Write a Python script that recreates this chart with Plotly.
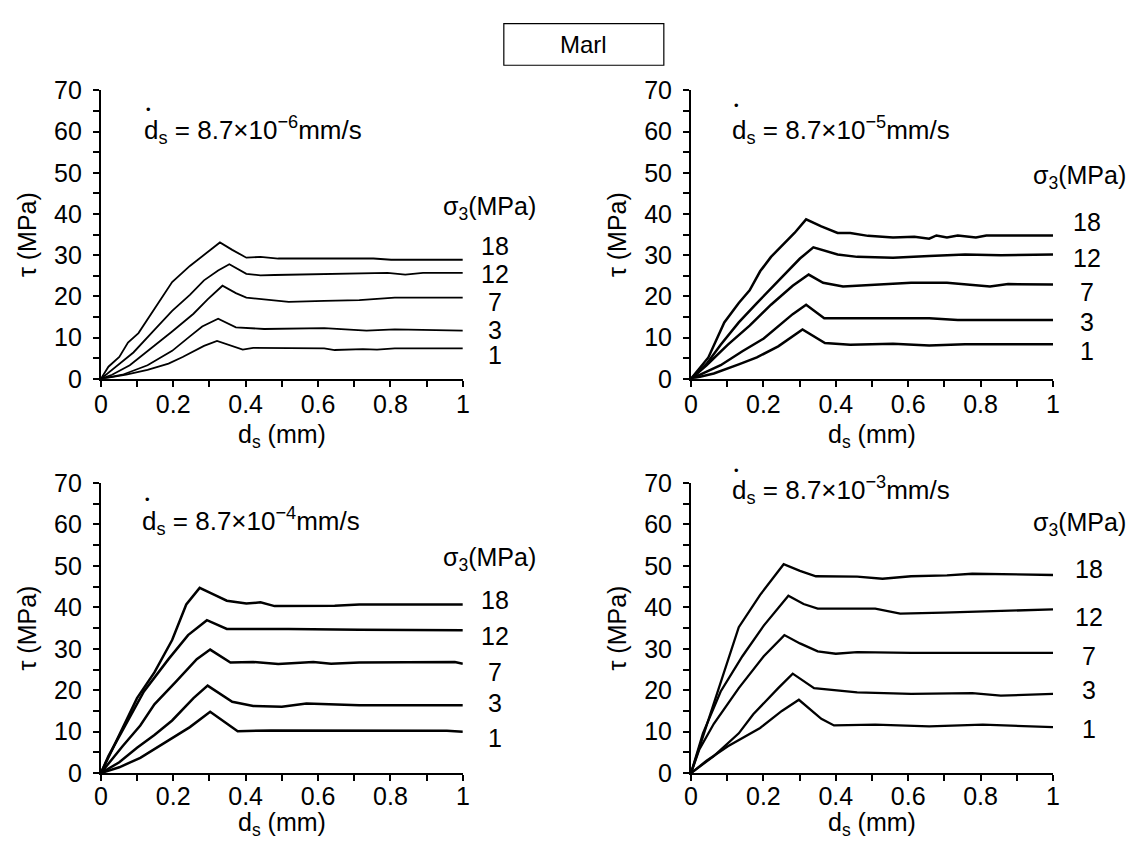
import plotly.graph_objects as go

# ---------------- data ----------------
sigma3_labels = ["18", "12", "7", "3", "1"]
rate_exponents = ["−6", "−5", "−4", "−3"]

# Panel A: 8.7e-6 mm/s
a18_x = [0, 0.021, 0.051, 0.075, 0.104, 0.139, 0.197, 0.246, 0.285, 0.329, 0.363, 0.402, 0.441, 0.49, 0.753, 0.802, 1.0]
a18_y = [0, 2.95, 5.3, 8.8, 11.1, 15.8, 23.5, 27.4, 30.1, 33.1, 31.3, 29.4, 29.6, 29.2, 29.2, 28.9, 28.9]
a12_x = [0, 0.031, 0.09, 0.148, 0.197, 0.246, 0.285, 0.324, 0.355, 0.402, 0.441, 0.48, 0.714, 0.792, 0.841, 0.89, 1.0]
a12_y = [0, 2.2, 6.4, 11.9, 16.5, 20.4, 23.9, 26.3, 27.8, 25.5, 25.1, 25.2, 25.5, 25.7, 25.3, 25.7, 25.7]
a7_x = [0, 0.031, 0.08, 0.148, 0.197, 0.256, 0.295, 0.336, 0.373, 0.402, 0.451, 0.519, 0.617, 0.714, 0.812, 1.0]
a7_y = [0, 1.0, 3.3, 8.0, 11.5, 15.8, 19.3, 22.6, 20.8, 19.7, 19.3, 18.7, 18.9, 19.1, 19.7, 19.7]
a3_x = [0, 0.06, 0.129, 0.197, 0.246, 0.28, 0.324, 0.373, 0.451, 0.617, 0.734, 0.812, 1.0]
a3_y = [0, 1.0, 3.3, 6.8, 10.3, 12.7, 14.6, 12.5, 12.1, 12.3, 11.7, 12.0, 11.7]
a1_x = [0, 0.07, 0.129, 0.187, 0.226, 0.285, 0.321, 0.392, 0.421, 0.617, 0.646, 0.724, 0.763, 0.812, 1.0]
a1_y = [0, 1.0, 2.2, 3.7, 5.3, 8.0, 9.2, 7.1, 7.5, 7.4, 7.0, 7.2, 7.1, 7.4, 7.4]

# Panel B: 8.7e-5 mm/s
b18_x = [0, 0.048, 0.092, 0.132, 0.162, 0.191, 0.221, 0.261, 0.286, 0.318, 0.36, 0.405, 0.44, 0.489, 0.558, 0.617, 0.658, 0.678, 0.707, 0.737, 0.787, 0.816, 1.0]
b18_y = [0, 5.2, 13.7, 18.4, 21.5, 26.1, 29.6, 33.1, 35.4, 38.7, 37.0, 35.4, 35.4, 34.7, 34.3, 34.5, 34.0, 34.8, 34.3, 34.8, 34.3, 34.8, 34.8]
b12_x = [0, 0.043, 0.082, 0.132, 0.182, 0.241, 0.301, 0.338, 0.405, 0.459, 0.558, 0.658, 0.757, 0.856, 1.0]
b12_y = [0, 3.6, 8.3, 13.7, 18.4, 23.8, 29.2, 31.9, 30.2, 29.6, 29.4, 29.8, 30.2, 30.0, 30.2]
b7_x = [0, 0.043, 0.102, 0.162, 0.221, 0.281, 0.325, 0.365, 0.42, 0.509, 0.608, 0.707, 0.826, 0.876, 1.0]
b7_y = [0, 3.3, 8.3, 12.9, 18.0, 22.6, 25.3, 23.3, 22.4, 22.9, 23.3, 23.3, 22.4, 23.0, 22.9]
b3_x = [0, 0.082, 0.142, 0.201, 0.281, 0.318, 0.368, 0.658, 0.737, 1.0]
b3_y = [0, 3.3, 6.7, 9.8, 15.7, 18.0, 14.7, 14.7, 14.3, 14.3]
b1_x = [0, 0.063, 0.132, 0.182, 0.241, 0.308, 0.37, 0.44, 0.558, 0.658, 0.757, 1.0]
b1_y = [0, 1.3, 3.5, 5.2, 7.9, 12.0, 8.7, 8.3, 8.5, 8.1, 8.4, 8.4]

# Panel C: 8.7e-4 mm/s
c18_x = [0, 0.031, 0.06, 0.1, 0.148, 0.197, 0.236, 0.273, 0.314, 0.348, 0.402, 0.441, 0.48, 0.568, 0.646, 0.714, 1.0]
c18_y = [0, 5.7, 11.1, 18.1, 24.3, 32.1, 40.7, 44.7, 43.0, 41.6, 40.9, 41.2, 40.3, 40.4, 40.4, 40.7, 40.7]
c12_x = [0, 0.021, 0.06, 0.119, 0.187, 0.241, 0.293, 0.348, 0.519, 0.714, 1.0]
c12_y = [0, 4.1, 10.3, 19.7, 27.5, 33.3, 36.9, 34.8, 34.8, 34.6, 34.5]
c7_x = [0, 0.06, 0.109, 0.148, 0.207, 0.265, 0.302, 0.358, 0.421, 0.49, 0.587, 0.636, 0.714, 0.978, 1.0]
c7_y = [0, 6.5, 11.5, 16.6, 22.0, 27.5, 29.8, 26.7, 26.8, 26.3, 26.8, 26.4, 26.7, 26.8, 26.4]
c3_x = [0, 0.051, 0.1, 0.148, 0.197, 0.256, 0.295, 0.363, 0.421, 0.5, 0.568, 0.714, 1.0]
c3_y = [0, 2.6, 6.1, 9.2, 12.7, 18.1, 21.1, 17.2, 16.2, 16.0, 16.8, 16.4, 16.4]
c1_x = [0, 0.051, 0.109, 0.178, 0.246, 0.302, 0.378, 0.47, 0.714, 0.956, 1.0]
c1_y = [0, 1.4, 3.7, 7.4, 11.1, 14.8, 10.1, 10.3, 10.3, 10.2, 10.0]

# Panel D: 8.7e-3 mm/s
d18_x = [0, 0.033, 0.063, 0.092, 0.132, 0.191, 0.256, 0.301, 0.345, 0.459, 0.529, 0.608, 0.707, 0.777, 1.0]
d18_y = [0, 8.8, 16.6, 24.3, 35.2, 43.0, 50.4, 48.8, 47.5, 47.4, 46.9, 47.5, 47.7, 48.1, 47.8]
d12_x = [0, 0.033, 0.082, 0.142, 0.201, 0.269, 0.311, 0.35, 0.509, 0.578, 0.697, 0.856, 1.0]
d12_y = [0, 9.6, 19.7, 28.2, 35.6, 42.8, 40.8, 39.7, 39.7, 38.5, 38.7, 39.1, 39.5]
d7_x = [0, 0.023, 0.063, 0.132, 0.201, 0.258, 0.301, 0.35, 0.4, 0.459, 0.608, 1.0]
d7_y = [0, 5.7, 11.9, 20.5, 28.2, 33.3, 31.3, 29.4, 28.8, 29.2, 29.0, 29.0]
d3_x = [0, 0.063, 0.132, 0.172, 0.241, 0.281, 0.34, 0.459, 0.608, 0.777, 0.856, 1.0]
d3_y = [0, 4.1, 9.6, 14.2, 20.5, 24.0, 20.5, 19.5, 19.1, 19.3, 18.7, 19.1]
d1_x = [0, 0.043, 0.102, 0.191, 0.251, 0.298, 0.36, 0.395, 0.509, 0.658, 0.806, 1.0]
d1_y = [0, 3.0, 6.5, 10.9, 15.0, 17.7, 13.1, 11.5, 11.7, 11.3, 11.7, 11.1]

panels = [
    [(a18_x, a18_y), (a12_x, a12_y), (a7_x, a7_y), (a3_x, a3_y), (a1_x, a1_y)],
    [(b18_x, b18_y), (b12_x, b12_y), (b7_x, b7_y), (b3_x, b3_y), (b1_x, b1_y)],
    [(c18_x, c18_y), (c12_x, c12_y), (c7_x, c7_y), (c3_x, c3_y), (c1_x, c1_y)],
    [(d18_x, d18_y), (d12_x, d12_y), (d7_x, d7_y), (d3_x, d3_y), (d1_x, d1_y)],
]

# ---------------- layout geometry ----------------
W, H = 1140, 849
FONT = "Liberation Sans, Arial, sans-serif"
FS = 25
x_domains = [(95 / W, 461.5 / W), (692.5 / W, 1059 / W), (95 / W, 461.5 / W), (692.5 / W, 1059 / W)]
y_domains = [(1 - 377.3 / H, 1 - 79 / H), (1 - 377.3 / H, 1 - 79 / H), (1 - 785 / H, 1 - 485 / H), (1 - 785 / H, 1 - 485 / H)]
line_widths = [1.8, 2.5, 2.5, 2.3]
xlabel_standoff = [-4, -4, -6, -6]

# label positions (domain fractions / MPa) per panel
label_x = [1.09, 1.094, 1.09, 1.099]
header_pos = [(1.075, 41.4), (1.074, 49.0), (1.075, 51.6), (1.074, 60.1)]
number_y = [
    [32.3, 25.5, 18.7, 11.9, 5.8],
    [38.1, 29.4, 21.1, 13.7, 6.7],
    [41.7, 33.1, 24.3, 17.0, 8.4],
    [49.2, 37.6, 28.2, 20.1, 10.7],
]
rate_pos = [(0.114, 60.5), (0.107, 60.5), (0.109, 60.8), (0.107, 68.2)]
dot_pos = [(0.133, 65.4), (0.125, 66.4), (0.129, 66.1), (0.125, 73.1)]
xtitle_y = [-0.197, -0.197, -0.176, -0.176]

fig = go.Figure()
annotations = []
layout_axes = {}

for i, curves in enumerate(panels):
    n = i + 1
    xa = "x" if n == 1 else f"x{n}"
    ya = "y" if n == 1 else f"y{n}"
    for (xs, ys) in curves:
        fig.add_trace(go.Scatter(
            x=xs, y=ys, xaxis=xa, yaxis=ya, mode="lines",
            line=dict(color="black", width=line_widths[i]), showlegend=False, hoverinfo="skip"))

    xkey = "xaxis" if n == 1 else f"xaxis{n}"
    ykey = "yaxis" if n == 1 else f"yaxis{n}"
    layout_axes[xkey] = dict(
        domain=list(x_domains[i]), anchor=ya, range=[0, 1],
        tickmode="linear", tick0=0, dtick=0.2, ticks="outside", ticklen=6, tickwidth=1.5,
        tickcolor="black", showline=True, linecolor="black", linewidth=2,
        showgrid=False, zeroline=False, ticklabelstandoff=xlabel_standoff[i],
        minor=dict(dtick=0.1, tick0=0, ticks="outside", ticklen=6, tickwidth=1.5, tickcolor="black", showgrid=False),
        tickfont=dict(family=FONT, size=FS, color="black"),
    )
    layout_axes[ykey] = dict(
        domain=list(y_domains[i]), anchor=xa, range=[0, 70],
        tickmode="linear", tick0=0, dtick=10, ticks="outside", ticklen=6, tickwidth=1.5,
        tickcolor="black", showline=True, linecolor="black", linewidth=2,
        showgrid=False, zeroline=False, ticklabelstandoff=6,
        minor=dict(dtick=5, tick0=0, ticks="outside", ticklen=6, tickwidth=1.5, tickcolor="black", showgrid=False),
        tickfont=dict(family=FONT, size=FS, color="black"),
        title=dict(text="τ (MPa)", font=dict(family=FONT, size=FS, color="black"), standoff=10),
    )

    xref = f"{xa} domain"
    yref = f"{ya} domain"
    annotations.append(dict(x=0.5, y=xtitle_y[i], xref=xref, yref=yref, text="d<sub>s</sub> (mm)",
                            showarrow=False, font=dict(family=FONT, size=FS, color="black"),
                            xanchor="center", yanchor="middle"))
    hx, hy = header_pos[i]
    annotations.append(dict(x=hx, y=hy / 70, xref=xref, yref=yref, text="σ<sub>3</sub>(MPa)",
                            showarrow=False, font=dict(family=FONT, size=FS, color="black"),
                            xanchor="center", yanchor="middle"))
    for lab, ly in zip(sigma3_labels, number_y[i]):
        annotations.append(dict(x=label_x[i], y=ly / 70, xref=xref, yref=yref, text=lab,
                                showarrow=False, font=dict(family=FONT, size=FS, color="black"),
                                xanchor="center", yanchor="middle"))
    rx, ry = rate_pos[i]
    annotations.append(dict(
        x=rx, y=ry / 70, xref=xref, yref=yref, xanchor="left", yanchor="middle",
        text=f"d<sub>s</sub> = 8.7×10<sup>{rate_exponents[i]}</sup>mm/s",
        showarrow=False, font=dict(family=FONT, size=FS + 1, color="black")))
    dx, dy = dot_pos[i]
    annotations.append(dict(x=dx, y=dy / 70, xref=xref, yref=yref, xanchor="center", yanchor="middle",
                            text="•", showarrow=False, font=dict(family=FONT, size=13, color="black")))

# title box
annotations.append(dict(x=584 / W, y=1 - 31.5 / H, xref="paper", yref="paper", text="Marl",
                        showarrow=False, font=dict(family=FONT, size=24, color="black"),
                        xanchor="center", yanchor="middle"))

fig.update_layout(
    width=W, height=H, margin=dict(l=0, r=0, t=0, b=0),
    paper_bgcolor="white", plot_bgcolor="white",
    annotations=annotations,
    shapes=[dict(type="rect", xref="paper", yref="paper",
                 x0=503 / W, x1=665 / W, y0=1 - 53 / H, y1=1 - 10 / H,
                 line=dict(color="black", width=1.2))],
    **layout_axes,
)

fig.write_html("out.html")
